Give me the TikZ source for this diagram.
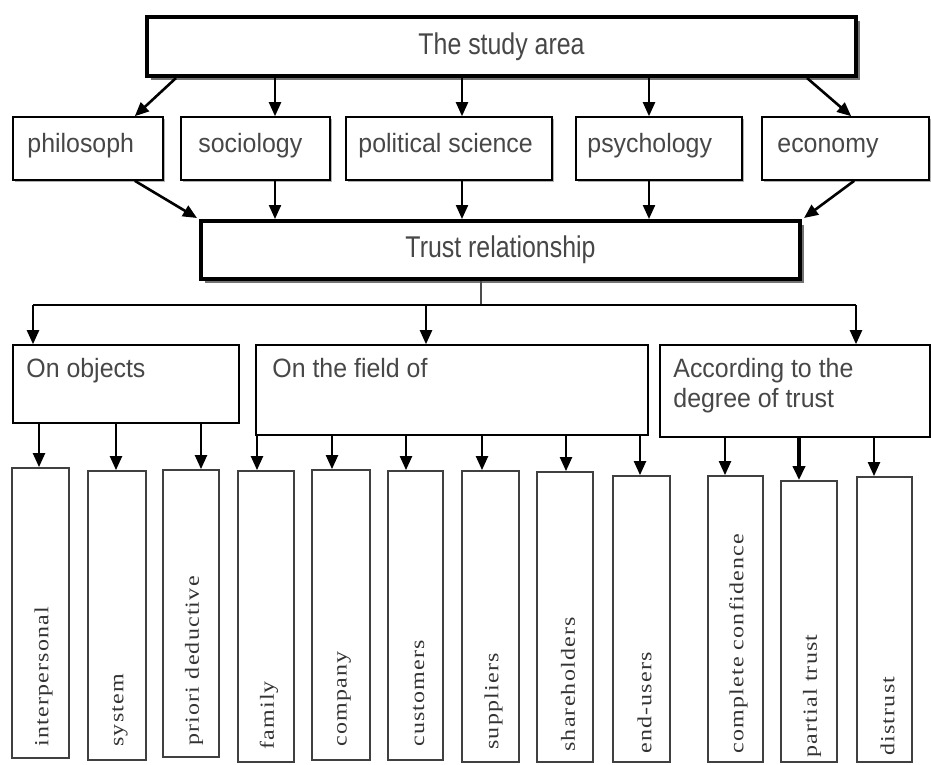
\documentclass[tikz,border=0pt]{standalone}
\usepackage{fontspec}
\setmainfont{Liberation Serif}
\newfontfamily\bigfont[FakeStretch=0.83]{Liberation Sans}
\newfontfamily\lblfont[FakeStretch=0.94]{Liberation Sans}
\newfontfamily\leaffont[FakeStretch=1.2,LetterSpace=6]{Liberation Serif}
\usetikzlibrary{arrows.meta,calc,shadows}

\tikzset{
  lbl/.style={font=\lblfont\fontsize{26.5}{30}\selectfont, text=black!72, inner sep=0pt},
  bigbox/.style={draw=black, line width=4pt, fill=white,
    font=\bigfont\fontsize{30}{34}\selectfont, text=black!72,
    drop shadow={shadow xshift=4pt, shadow yshift=-4pt, fill=black!55, opacity=1}},
  midbox/.style={draw=black, line width=1.6pt, fill=white,
    drop shadow={shadow xshift=2pt, shadow yshift=-2pt, fill=black!30, opacity=1}},
  grpbox/.style={draw=black, line width=1.6pt, fill=white},
  leafbox/.style={draw=black!75, line width=1.8pt, fill=white},
  leaf/.style={font=\leaffont\fontsize{20}{24}\selectfont, text=black!80,
    rotate=90, anchor=west, inner sep=0pt},
  arr/.style={-{Triangle[length=14pt,width=12pt]}, line width=2.2pt},
  wire/.style={line width=1.8pt},
}

\begin{document}
\begin{tikzpicture}[x=1pt, y=-1pt]
\useasboundingbox (0,0) rectangle (931,764);

% ---- top level and disciplines ----
\node[bigbox, minimum width=709pt, minimum height=59pt] (study) at (501.5,46.5) {The study area};

\node[midbox, minimum width=150pt, minimum height=63pt] (phil) at (88,148.5) {};
\node[midbox, minimum width=149pt, minimum height=63pt] (soc)  at (255.5,148.5) {};
\node[midbox, minimum width=206pt, minimum height=63pt] (pol)  at (449,148.5) {};
\node[midbox, minimum width=166pt, minimum height=63pt] (psy)  at (659,148.5) {};
\node[midbox, minimum width=167pt, minimum height=63pt] (eco)  at (845.5,148.5) {};

\node[lbl, anchor=base west] (phil-t) at ($(phil.west)+(15,3.5)$) {philosoph};
\node[lbl, anchor=base west] (soc-t)  at ($(soc.west)+(18,3.5)$) {sociology};
\node[lbl, anchor=base west] (pol-t)  at ($(pol.west)+(13,3.5)$) {political science};
\node[lbl, anchor=base west] (psy-t)  at ($(psy.west)+(12,3.5)$) {psychology};
\node[lbl, anchor=base west] (eco-t)  at ($(eco.west)+(16,3.5)$) {economy};

\node[bigbox, minimum width=599pt, minimum height=58pt] (trust) at (500.5,250) {Trust relationship};

% ---- grouping criteria ----
\node[grpbox, minimum width=226pt, minimum height=78pt] (obj)   at (126,384) {};
\node[grpbox, minimum width=392pt, minimum height=90pt] (field) at (452,390) {};
\node[grpbox, minimum width=270pt, minimum height=92pt] (deg)   at (795,391) {};

\node[lbl, anchor=base west] (obj-t)   at ($(obj.north west)+(14,33)$) {On objects};
\node[lbl, anchor=base west] (field-t) at ($(field.north west)+(17,33)$) {On the field of};
\node[lbl, anchor=base west] (deg-t1)  at ($(deg.north west)+(14,33)$) {According to the};
\node[lbl, anchor=base west] (deg-t2)  at ($(deg.north west)+(14,63)$) {degree of trust};

% ---- kinds of trust ----
\node[leafbox, minimum width=57pt, minimum height=290pt] (ip)  at (40.5,613) {};
\node[leafbox, minimum width=58pt, minimum height=289pt] (sys) at (117,615.5) {};
\node[leafbox, minimum width=56pt, minimum height=287pt] (pri) at (191,613.5) {};
\node[leafbox, minimum width=56pt, minimum height=291pt] (fam) at (266,616.5) {};
\node[leafbox, minimum width=58pt, minimum height=290pt] (com) at (341,615) {};
\node[leafbox, minimum width=55pt, minimum height=289pt] (cus) at (415.5,615.5) {};
\node[leafbox, minimum width=57pt, minimum height=291pt] (sup) at (490.5,616.5) {};
\node[leafbox, minimum width=56pt, minimum height=290pt] (sha) at (565,617) {};
\node[leafbox, minimum width=57pt, minimum height=286pt] (end) at (641.5,619) {};
\node[leafbox, minimum width=55pt, minimum height=286pt] (cc)  at (735.5,619) {};
\node[leafbox, minimum width=56pt, minimum height=281pt] (pt)  at (809,621.5) {};
\node[leafbox, minimum width=55pt, minimum height=285pt] (dis) at (884.5,619.5) {};

\node[leaf] (ip-t)  at ($(ip.south)+(3,-12)$)  {interpersonal};
\node[leaf] (sys-t) at ($(sys.south)+(3,-14)$) {system};
\node[leaf] (pri-t) at ($(pri.south)+(3,-12)$) {priori deductive};
\node[leaf] (fam-t) at ($(fam.south)+(3,-13)$) {family};
\node[leaf] (com-t) at ($(com.south)+(3,-14)$) {company};
\node[leaf] (cus-t) at ($(cus.south)+(3,-14)$) {customers};
\node[leaf] (sup-t) at ($(sup.south)+(3,-13)$) {suppliers};
\node[leaf] (sha-t) at ($(sha.south)+(3,-11)$) {shareholders};
\node[leaf] (end-t) at ($(end.south)+(3,-9)$)  {end-users};
\node[leaf] (cc-t)  at ($(cc.south)+(3,-9)$)   {complete confidence};
\node[leaf] (pt-t)  at ($(pt.south)+(3,-5)$)   {partial trust};
\node[leaf] (dis-t) at ($(dis.south)+(3,-7)$)  {distrust};

% ---- arrow columns ----
\coordinate (ksoc) at (275,0);
\coordinate (kpol) at (462,0);
\coordinate (kpsy) at (649,0);
\coordinate (bus)  at (481,305);
\coordinate (kobj) at (33,0);
\coordinate (kfld) at (426,0);
\coordinate (kdeg) at (856,0);
\coordinate (kip)  at (39,0);
\coordinate (ksys) at (116,0);
\coordinate (kpri) at (201,0);
\coordinate (kfam) at (257,0);
\coordinate (kcom) at (332,0);
\coordinate (kcus) at (406,0);
\coordinate (ksup) at (482,0);
\coordinate (ksha) at (566,0);
\coordinate (kend) at (640,0);
\coordinate (kcc)  at (725,0);
\coordinate (kpt)  at (799,0);
\coordinate (kdis) at (874,0);

% study area -> disciplines
\draw[arr, line width=2.6pt] ($(study.south west)+(31,0)$) -- ($(phil.north east)+(-29,0)$);
\draw[arr] (study.south -| ksoc) -- (soc.north -| ksoc);
\draw[arr] (study.south -| kpol) -- (pol.north -| kpol);
\draw[arr] (study.south -| kpsy) -- (psy.north -| kpsy);
\draw[arr, line width=2.6pt] ($(study.south east)+(-51,0)$) -- ($(eco.north west)+(90,0)$);

% disciplines -> trust relationship
\draw[arr, line width=2.6pt] ($(phil.south east)+(-29,0)$) -- ($(trust.north west)+(-2,-1)$);
\draw[arr] (soc.south -| ksoc) -- (trust.north -| ksoc);
\draw[arr] (pol.south -| kpol) -- (trust.north -| kpol);
\draw[arr] (psy.south -| kpsy) -- (trust.north -| kpsy);
\draw[arr, line width=2.6pt] ($(eco.south west)+(93,0)$) -- ($(trust.north east)+(2,-1)$);

% trust relationship -> criteria
\draw[line width=1.2pt, black!70] (trust.south -| bus) -- (bus);
\draw[wire] (bus -| kobj) -- (bus -| kdeg);
\draw[arr] (bus -| kobj) -- (obj.north -| kobj);
\draw[arr] (bus -| kfld) -- (field.north -| kfld);
\draw[arr] (bus -| kdeg) -- (deg.north -| kdeg);

% criteria -> kinds
\draw[arr] (obj.south -| kip)  -- (ip.north -| kip);
\draw[arr] (obj.south -| ksys) -- (sys.north -| ksys);
\draw[arr] (obj.south -| kpri) -- (pri.north -| kpri);
\draw[arr] (field.south -| kfam) -- (fam.north -| kfam);
\draw[arr] (field.south -| kcom) -- (com.north -| kcom);
\draw[arr] (field.south -| kcus) -- (cus.north -| kcus);
\draw[arr] (field.south -| ksup) -- (sup.north -| ksup);
\draw[arr] (field.south -| ksha) -- (sha.north -| ksha);
\draw[arr] (field.south -| kend) -- (end.north -| kend);
\draw[arr] (deg.south -| kcc)  -- (cc.north -| kcc);
\draw[arr, line width=4.5pt] (deg.south -| kpt) -- (pt.north -| kpt);
\draw[arr] (deg.south -| kdis) -- (dis.north -| kdis);
\end{tikzpicture}
\end{document}
